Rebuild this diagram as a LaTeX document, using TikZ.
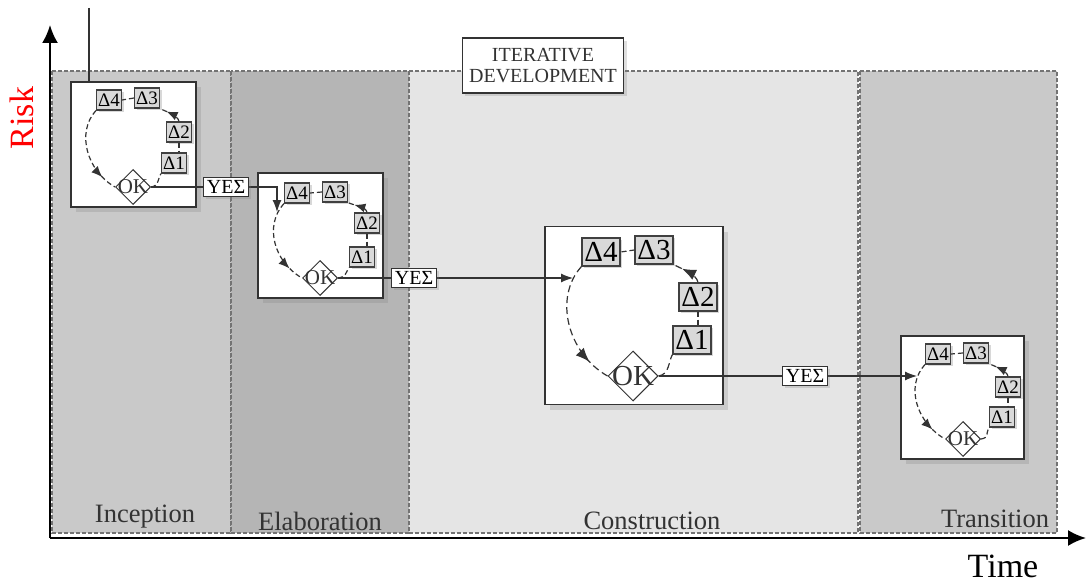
\documentclass[tikz,border=0pt]{standalone}
\usepackage{fontspec}
\setmainfont{Liberation Serif}
\usetikzlibrary{positioning,arrows.meta,shapes.geometric,shadows,decorations.markings}

\definecolor{incfill}{gray}{0.79}
\definecolor{elafill}{gray}{0.71}
\definecolor{confill}{gray}{0.90}
\definecolor{trafill}{gray}{0.79}
\definecolor{phaseline}{gray}{0.45}
\definecolor{inkdark}{gray}{0.2}

\tikzset{
  phase/.style={draw=phaseline, line width=0.6pt, dash pattern=on 2pt off 1pt},
  phaselabel/.style={font=\fontsize{13.25}{15}\selectfont, text=inkdark},
  itbox/.style={draw=inkdark, line width=0.8pt, fill=white, minimum size=62.5pt,
    drop shadow={shadow xshift=2.5pt, shadow yshift=-2.5pt, opacity=0.25}},
  dbox/.style={draw=black!75, fill=black!15, line width=0.6pt, inner sep=0.5pt,
    minimum width=12.5pt, minimum height=10pt, font=\fontsize{9.5}{10}\selectfont,
    drop shadow={shadow xshift=1pt, shadow yshift=-1pt, opacity=0.3}},
  dboxbig/.style={dbox, minimum width=19pt, minimum height=14pt,
    font=\fontsize{14.5}{15}\selectfont},
  okdia/.style={diamond, draw=inkdark, fill=white, line width=0.5pt,
    inner sep=0pt, minimum size=17.5pt},
  okdiabig/.style={okdia, minimum size=25pt},
  oktext/.style={font=\fontsize{10.5}{11}\selectfont, inner sep=0pt, text=inkdark},
  oktextbig/.style={oktext, font=\fontsize{14.5}{15}\selectfont},
  yesbox/.style={draw=inkdark, fill=white, line width=0.6pt, inner sep=1.5pt,
    font=\fontsize{10}{11}\selectfont,
    drop shadow={shadow xshift=1.2pt, shadow yshift=-1.2pt, opacity=0.25}},
  itlabel/.style={draw=inkdark, fill=white, line width=0.6pt, align=center,
    minimum width=80pt, minimum height=27.5pt, text=inkdark,
    font=\fontsize{10}{10.5}\selectfont,
    drop shadow={shadow xshift=1.5pt, shadow yshift=-1.5pt, opacity=0.25}},
  cyclepath/.style={draw=inkdark, line width=0.6pt, dash pattern=on 2.5pt off 1.5pt},
  cyclearrow/.style={cyclepath, postaction={decorate},
    decoration={markings, mark=at position #1 with {\arrow{Latex[length=5.5pt,width=4.5pt]}}}},
  cyclearrowbig/.style={cyclepath, dash pattern=on 3.5pt off 2pt, postaction={decorate},
    decoration={markings, mark=at position #1 with {\arrow{Latex[length=7pt,width=5.5pt]}}}},
  flow/.style={draw=inkdark, line width=0.6pt},
  flowarrow/.style={flow, -{Latex[length=6pt,width=4.5pt]}},
  axis/.style={line width=1.1pt, -{Latex[length=9pt,width=8pt]}}
}

\begin{document}
\begin{tikzpicture}[x=0.5pt,y=-0.5pt]
\useasboundingbox (0,0) rectangle (1087,583);

% phases
\draw[phase, fill=incfill] (52,71) rectangle (231,533);
\draw[phase, fill=elafill] (231,71) rectangle (409,533);
\draw[phase, fill=confill] (409,71) rectangle (858,533);
\draw[phase, fill=trafill] (860,71) rectangle (1057,533);
\node[phaselabel] (inception) at (145,517) {Inception};
\node[phaselabel] (elaboration) at (320,521) {Elaboration};
\node[phaselabel] (construction) at (652,521) {Construction};
\node[phaselabel] (transition) at (995,519) {Transition};
\node[itlabel] (iterdev) at (543,65.5) {ITERATIVE\\DEVELOPMENT};

% axes
\coordinate (origin) at (50,538);
\coordinate (ytip) at (50,25);
\coordinate (xtip) at (1086,538);
\draw[axis] (origin) -- (ytip);
\draw[axis] (origin) -- (xtip);
\node[rotate=90, text=red, font=\fontsize{17}{18}\selectfont] (risk) at (22,118) {Risk};
\node[font=\fontsize{17}{18}\selectfont] (timelabel) at (1003,566) {Time};

% inception iteration
\node[itbox] (itinc) at (133.5,144.5) {};
\node[dbox] (inc4) at (109,100) {Δ4};
\node[dbox] (inc3) at (147,98) {Δ3};
\node[dbox] (inc2) at (179,132) {Δ2};
\node[dbox] (inc1) at (174,163) {Δ1};
\node[okdia, label={[oktext]center:OK}] (incok) at (133,187) {};
\draw[cyclepath] (inc2.south) -- (inc2.south |- inc1.north);
\draw[cyclearrow=0.7] (inc2.north) .. controls +(-1,-6) and +(6,3) .. (inc3.south east);
\draw[cyclepath] (inc3.west) -- (inc4.east);
\draw[cyclearrow=0.82] (inc4.south west) .. controls +(-20,22) and +(-28,-16) .. (incok.west);
\draw[cyclepath] (incok.east) .. controls +(8,-1) and +(-3,5) .. (inc1.south west);
\coordinate (incin) at (89,8);
\draw[flow] (incin) -- (incin |- itinc.north);

% elaboration iteration
\node[itbox] (itela) at (320.5,235.5) {};
\node[dbox] (ela4) at (297,193) {Δ4};
\node[dbox] (ela3) at (335,192) {Δ3};
\node[dbox] (ela2) at (367,223) {Δ2};
\node[dbox] (ela1) at (362,257) {Δ1};
\node[okdia, label={[oktext]center:OK}] (elaok) at (320,278) {};
\draw[cyclepath] (ela2.south) -- (ela2.south |- ela1.north);
\draw[cyclearrow=0.7] (ela2.north) .. controls +(-1,-6) and +(6,3) .. (ela3.south east);
\draw[cyclepath] (ela3.west) -- (ela4.east);
\draw[cyclearrow=0.82] (ela4.south west) .. controls +(-20,22) and +(-28,-16) .. (elaok.west);
\draw[cyclepath] (elaok.east) .. controls +(8,-1) and +(-3,5) .. (ela1.south west);
\coordinate (elain) at (277,212);

% construction iteration
\node[itbox, minimum size=89pt] (itcon) at (634,315.5) {};
\node[dboxbig] (con4) at (601,252) {Δ4};
\node[dboxbig] (con3) at (654,250) {Δ3};
\node[dboxbig] (con2) at (698,297) {Δ2};
\node[dboxbig] (con1) at (692,340) {Δ1};
\node[okdiabig, label={[oktextbig]center:OK}] (conok) at (633,376) {};
\draw[cyclepath] (con2.south) -- (con2.south |- con1.north);
\draw[cyclearrowbig=0.7] (con2.north) .. controls +(-1.5,-8.5) and +(8.5,4.5) .. (con3.south east);
\draw[cyclepath] (con3.west) -- (con4.east);
\draw[cyclearrowbig=0.82] (con4.south west) .. controls +(-28,31) and +(-40,-23) .. (conok.west);
\draw[cyclepath, dash pattern=on 3.5pt off 2pt] (conok.east) .. controls +(11,-1.5) and +(-4,7) .. (con1.south west);
\coordinate (conin) at (573,278);

% transition iteration
\node[itbox, minimum size=61.5pt] (ittra) at (962.5,397.5) {};
\node[dbox] (tra4) at (938,354) {Δ4};
\node[dbox] (tra3) at (976,353) {Δ3};
\node[dbox] (tra2) at (1008,387) {Δ2};
\node[dbox] (tra1) at (1002,417) {Δ1};
\node[okdia, label={[oktext]center:OK}] (traok) at (963,439) {};
\draw[cyclepath] (tra2.south) -- (tra2.south |- tra1.north);
\draw[cyclearrow=0.7] (tra2.north) .. controls +(-1,-6) and +(6,3) .. (tra3.south east);
\draw[cyclepath] (tra3.west) -- (tra4.east);
\draw[cyclearrow=0.82] (tra4.south west) .. controls +(-20,22) and +(-28,-16) .. (traok.west);
\draw[cyclepath] (traok.east) .. controls +(8,-1) and +(-3,5) .. (tra1.south west);
\coordinate (train) at (917,376);

% hand-over between iterations
\draw[flowarrow] (incok.east) -| (elain);
\draw[flowarrow] (elaok.east) -- (conin);
\draw[flowarrow] (conok.east) -- (train);
\node[yesbox] (yesinc) at (226,187) {ΥΕΣ};
\node[yesbox] (yesela) at (414,278) {ΥΕΣ};
\node[yesbox] (yescon) at (805,376) {ΥΕΣ};
\end{tikzpicture}
\end{document}
